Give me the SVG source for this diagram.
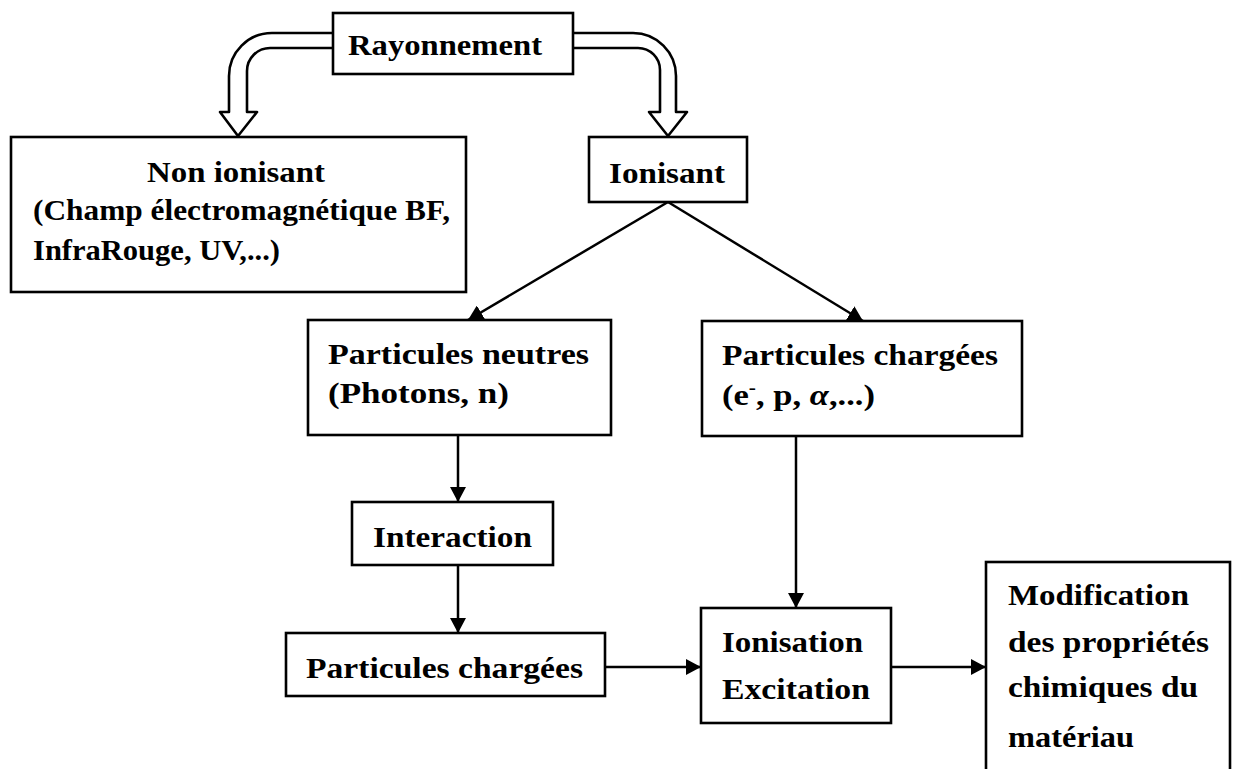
<svg xmlns="http://www.w3.org/2000/svg" width="1234" height="769" viewBox="0 0 1234 769">
<style>
.box{fill:#fff;stroke:#000;stroke-width:2.6}
.hollow{fill:#fff;stroke:#000;stroke-width:2.6;stroke-linejoin:round}
.conn{fill:none;stroke:#000;stroke-width:2.5}
text{font-family:"Liberation Serif","Times New Roman",serif;font-weight:bold;font-size:29px;fill:#000}
</style>
<defs>
<marker id="ah" viewBox="0 0 15 16" refX="15" refY="8" markerWidth="15" markerHeight="16" markerUnits="userSpaceOnUse" orient="auto">
<path d="M0,0 L15,8 L0,16 z" fill="#000"/>
</marker>
</defs>
<rect width="1234" height="769" fill="#fff"/>
<g id="connectors">
<path class="hollow" d="M334,33 L272,33 A43,43 0 0 0 229,76 L229,112 L220,112 L238,136 L257,112 L247,112 L247,71 A23,23 0 0 1 270,48 L334,48"/>
<path class="hollow" d="M572,33 L633,33 A43,43 0 0 1 676,76 L676,112 L687,112 L668,136 L649,112 L660,112 L660,70 A22,22 0 0 0 638,48 L572,48"/>
<line class="conn" x1="668" y1="202" x2="468" y2="320" marker-end="url(#ah)"/>
<line class="conn" x1="668" y1="202" x2="863" y2="321" marker-end="url(#ah)"/>
<line class="conn" x1="458" y1="435" x2="458" y2="502" marker-end="url(#ah)"/>
<line class="conn" x1="458" y1="565" x2="458" y2="633" marker-end="url(#ah)"/>
<line class="conn" x1="796" y1="436" x2="796" y2="608" marker-end="url(#ah)"/>
<line class="conn" x1="605" y1="667" x2="701" y2="667" marker-end="url(#ah)"/>
<line class="conn" x1="891" y1="667" x2="986" y2="667" marker-end="url(#ah)"/>
</g>
<g id="rayonnement">
<rect class="box" x="333" y="13" width="240" height="61"/>
<text x="348" y="55" textLength="194" lengthAdjust="spacingAndGlyphs">Rayonnement</text>
</g>
<g id="non-ionisant">
<rect class="box" x="11" y="137" width="455" height="155"/>
<text x="147" y="182" textLength="178" lengthAdjust="spacingAndGlyphs">Non ionisant</text>
<text x="33" y="220" textLength="417" lengthAdjust="spacingAndGlyphs">(Champ électromagnétique BF,</text>
<text x="33" y="260" textLength="247" lengthAdjust="spacingAndGlyphs">InfraRouge, UV,...)</text>
</g>
<g id="ionisant">
<rect class="box" x="589" y="137" width="158" height="65"/>
<text x="609" y="183" textLength="116" lengthAdjust="spacingAndGlyphs">Ionisant</text>
</g>
<g id="particules-neutres">
<rect class="box" x="308" y="320" width="303" height="115"/>
<text x="328" y="364" textLength="261" lengthAdjust="spacingAndGlyphs">Particules neutres</text>
<text x="328" y="403" textLength="181" lengthAdjust="spacingAndGlyphs">(Photons, n)</text>
</g>
<g id="particules-chargees-1">
<rect class="box" x="702" y="321" width="320" height="115"/>
<text x="722" y="365" textLength="276" lengthAdjust="spacingAndGlyphs">Particules chargées</text>
<text x="722" y="405" textLength="153" lengthAdjust="spacingAndGlyphs">(e<tspan dy="-11" font-size="18">-</tspan><tspan dy="11">, p, </tspan><tspan font-style="italic">α</tspan>,...)</text>
</g>
<g id="interaction">
<rect class="box" x="352" y="502" width="201" height="63"/>
<text x="373" y="547" textLength="159" lengthAdjust="spacingAndGlyphs">Interaction</text>
</g>
<g id="particules-chargees-2">
<rect class="box" x="286" y="633" width="319" height="63"/>
<text x="306" y="678" textLength="277" lengthAdjust="spacingAndGlyphs">Particules chargées</text>
</g>
<g id="ionisation">
<rect class="box" x="701" y="608" width="190" height="115"/>
<text x="722" y="652" textLength="141" lengthAdjust="spacingAndGlyphs">Ionisation</text>
<text x="722" y="699" textLength="148" lengthAdjust="spacingAndGlyphs">Excitation</text>
</g>
<g id="modification">
<rect class="box" x="986" y="562" width="244" height="230"/>
<text x="1008" y="605" textLength="181" lengthAdjust="spacingAndGlyphs">Modification</text>
<text x="1008" y="652" textLength="201" lengthAdjust="spacingAndGlyphs">des propriétés</text>
<text x="1008" y="697" textLength="190" lengthAdjust="spacingAndGlyphs">chimiques du</text>
<text x="1008" y="747" textLength="126" lengthAdjust="spacingAndGlyphs">matériau</text>
</g>
</svg>
